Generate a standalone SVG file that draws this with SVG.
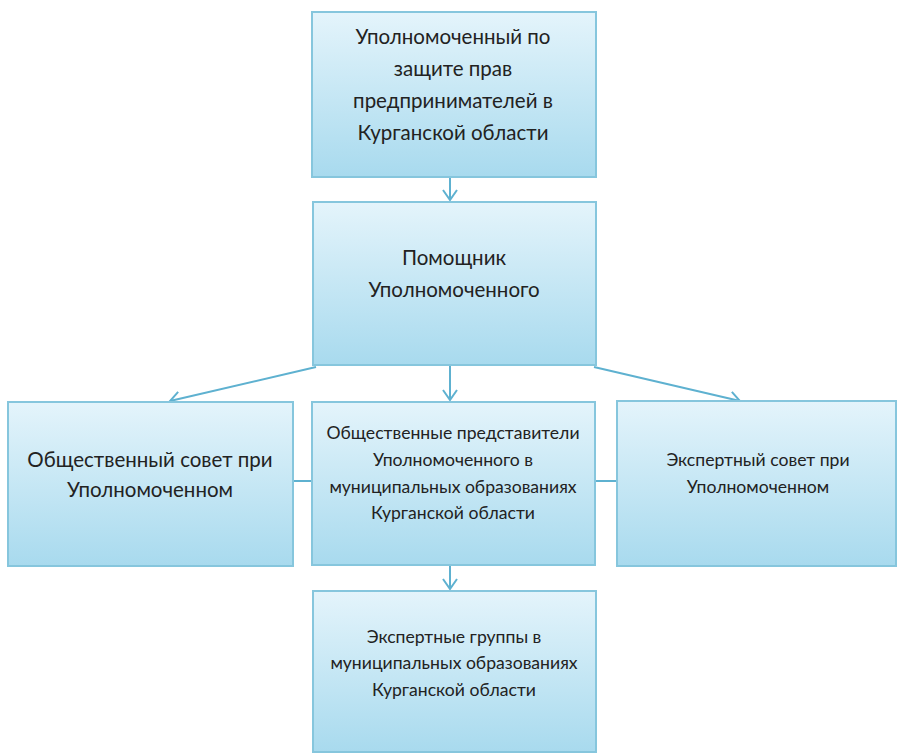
<svg xmlns="http://www.w3.org/2000/svg" width="898" height="754" viewBox="0 0 898 754">
<style>
.box{fill:url(#g);stroke:#86c6dd;stroke-width:2}
.t{font-family:"Lato","Open Sans","DejaVu Sans",sans-serif;fill:#222;text-anchor:middle}
.l{font-size:20.5px}
.s{font-size:17.6px}
.c{stroke:#5eb1d0;stroke-width:2;fill:none}
</style>
<defs>
<linearGradient id="g" x1="0" y1="0" x2="0" y2="1">
<stop offset="0" stop-color="#e4f4fb"/>
<stop offset="1" stop-color="#a8daee"/>
</linearGradient>
<marker id="a" markerWidth="16" markerHeight="16" refX="13" refY="8" orient="auto" markerUnits="userSpaceOnUse">
<path d="M3,1 L13,8 L3,15" fill="none" stroke="#5eb1d0" stroke-width="2"/>
</marker>
</defs>
<g id="connectors">
<line class="c" x1="450" y1="178" x2="450" y2="200" marker-end="url(#a)"/>
<line class="c" x1="450" y1="366" x2="450" y2="400" marker-end="url(#a)"/>
<line class="c" x1="316" y1="367" x2="170" y2="401" marker-end="url(#a)"/>
<line class="c" x1="594" y1="367" x2="740" y2="401" marker-end="url(#a)"/>
<line class="c" x1="450" y1="566" x2="450" y2="589" marker-end="url(#a)"/>
<line class="c" x1="293" y1="481" x2="312" y2="481"/>
<line class="c" x1="595" y1="481" x2="617" y2="481"/>
</g>
<g id="n1">
<rect class="box" x="312" y="12" width="284" height="165"/>
<text class="t l" x="453" y="44">Уполномоченный по</text>
<text class="t l" x="453" y="76">защите прав</text>
<text class="t l" x="453" y="108">предпринимателей в</text>
<text class="t l" x="453" y="140">Курганской области</text>
</g>
<g id="n2">
<rect class="box" x="313" y="202" width="283" height="163"/>
<text class="t l" x="454" y="265">Помощник</text>
<text class="t l" x="454" y="297">Уполномоченного</text>
</g>
<g id="n3">
<rect class="box" x="8" y="402" width="285" height="164"/>
<text class="t l" x="150" y="467">Общественный совет при</text>
<text class="t l" x="150" y="497">Уполномоченном</text>
</g>
<g id="n4">
<rect class="box" x="312" y="402" width="283" height="163"/>
<text class="t s" x="453" y="439">Общественные представители</text>
<text class="t s" x="453" y="466">Уполномоченного в</text>
<text class="t s" x="453" y="493">муниципальных образованиях</text>
<text class="t s" x="453" y="519">Курганской области</text>
</g>
<g id="n5">
<rect class="box" x="617" y="401" width="279" height="165"/>
<text class="t s" x="758" y="466">Экспертный совет при</text>
<text class="t s" x="758" y="493">Уполномоченном</text>
</g>
<g id="n6">
<rect class="box" x="313" y="591" width="283" height="161"/>
<text class="t s" x="454" y="643">Экспертные группы в</text>
<text class="t s" x="454" y="669">муниципальных образованиях</text>
<text class="t s" x="454" y="696">Курганской области</text>
</g>
</svg>
